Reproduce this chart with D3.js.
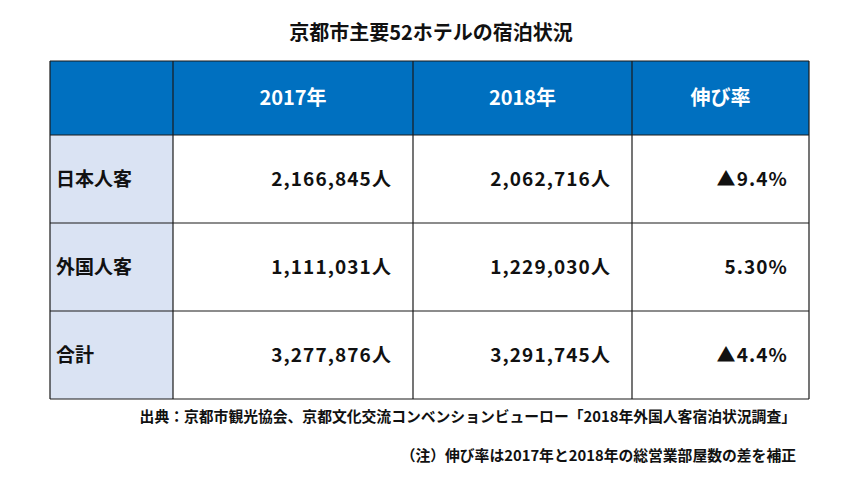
<!DOCTYPE html>
<html>
<head>
<meta charset="utf-8">
<script src="https://cdn.jsdelivr.net/npm/d3@7"></script>
<style>
  body { margin: 0; background: #fff; }
  svg text { font-family: "Noto Sans CJK JP", "Noto Sans", sans-serif; }
</style>
</head>
<body>
<div id="chart"></div>
<script>
const title = "京都市主要52ホテルの宿泊状況";
const columns = ["", "2017年", "2018年", "伸び率"];
const rowLabels = ["日本人客", "外国人客", "合計"];
const guests2017 = ["2,166,845人", "1,111,031人", "3,277,876人"];
const guests2018 = ["2,062,716人", "1,229,030人", "3,291,745人"];
const growth = ["▲9.4%", "5.30%", "▲4.4%"];
const source = "出典：京都市観光協会、京都文化交流コンベンションビューロー「2018年外国人客宿泊状況調査」";
const note = "（注）伸び率は2017年と2018年の総営業部屋数の差を補正";

const width = 850, height = 501;
const colEdges = [50, 173, 413, 632, 809];
const headerTop = 61, headerBottom = 135, tableBottom = 399;

const svg = d3.select("#chart").append("svg")
    .attr("width", width)
    .attr("height", height);

// column scale: index -> left edge
const x = d3.scaleOrdinal().domain(d3.range(columns.length)).range(colEdges.slice(0, -1));
const colW = i => colEdges[i + 1] - colEdges[i];
const y = d3.scaleBand().domain(rowLabels).range([headerBottom, tableBottom]);

svg.append("text")
    .attr("x", 431)
    .attr("y", 40)
    .attr("text-anchor", "middle")
    .attr("font-size", 20)
    .attr("font-weight", "bold")
    .attr("fill", "#111")
    .text(title);

// header
const header = svg.append("g");
header.append("rect")
    .attr("x", colEdges[0]).attr("y", headerTop)
    .attr("width", colEdges[colEdges.length - 1] - colEdges[0])
    .attr("height", headerBottom - headerTop)
    .attr("fill", "#0070C0");
header.selectAll("text")
    .data(columns)
    .join("text")
    .attr("x", (d, i) => x(i) + colW(i) / 2)
    .attr("y", (headerTop + headerBottom) / 2)
    .attr("dy", "0.36em")
    .attr("text-anchor", "middle")
    .attr("font-size", 20)
    .attr("font-weight", "bold")
    .attr("fill", "#fff")
    .text(d => d);

// label column background
svg.selectAll("rect.lab")
    .data(rowLabels)
    .join("rect")
    .attr("class", "lab")
    .attr("x", x(0)).attr("y", d => y(d))
    .attr("width", colW(0)).attr("height", y.bandwidth())
    .attr("fill", "#DAE3F3");

const rows = rowLabels.map((r, i) => ({ label: r, vals: [r, guests2017[i], guests2018[i], growth[i]] }));
const cells = rows.flatMap(r => r.vals.map((v, ci) => ({ row: r.label, ci, v })));

svg.selectAll("text.cell")
    .data(cells)
    .join("text")
    .attr("class", "cell")
    .attr("x", d => d.ci === 0 ? x(0) + 6 : x(d.ci) + colW(d.ci) - 21)
    .attr("y", d => y(d.row) + y.bandwidth() / 2)
    .attr("dy", "0.36em")
    .attr("text-anchor", d => d.ci === 0 ? "start" : "end")
    .attr("font-size", 19)
    .attr("letter-spacing", d => d.ci === 0 ? 0 : 1.1)
    .attr("font-weight", "bold")
    .attr("fill", "#111")
    .text(d => d.v);

// grid lines
const grid = svg.append("g").attr("stroke", "#1a1a1a").attr("stroke-width", 1.2);
grid.selectAll("line.h")
    .data([headerTop, headerBottom, ...rowLabels.slice(1).map(r => y(r)), tableBottom])
    .join("line")
    .attr("x1", colEdges[0]).attr("x2", colEdges[colEdges.length - 1])
    .attr("y1", d => d).attr("y2", d => d);
grid.selectAll("line.v")
    .data(colEdges)
    .join("line")
    .attr("x1", d => d).attr("x2", d => d)
    .attr("y1", headerTop).attr("y2", tableBottom);

svg.append("text")
    .attr("x", 796).attr("y", 422)
    .attr("text-anchor", "end")
    .attr("font-size", 14.8)
    .attr("font-weight", "bold")
    .attr("fill", "#111")
    .text(source);

svg.append("text")
    .attr("x", 796).attr("y", 461)
    .attr("text-anchor", "end")
    .attr("font-size", 14.8)
    .attr("font-weight", "bold")
    .attr("fill", "#111")
    .text(note);
</script>
</body>
</html>
